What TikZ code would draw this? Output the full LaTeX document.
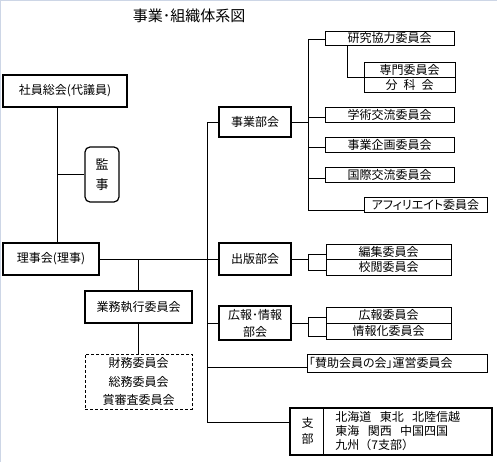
\documentclass[tikz,border=0pt]{standalone}
\usepackage{fontspec}
\setmainfont{Noto Sans CJK JP}
\newfontfamily\propfont{Noto Sans CJK JP}[RawFeature=+palt]
\definecolor{framegray}{RGB}{205,214,230}
\begin{document}
\begin{tikzpicture}[x=1pt, y=-1pt, line width=0.8pt,
    every node/.style={font=\fontsize{12}{15}\selectfont, inner sep=0pt},
    box/.style={draw, line width=0.8pt, minimum height=15pt},
    headbox/.style={draw, line width=1.6pt, minimum width=72pt, minimum height=32pt}]
  \useasboundingbox (0,0) rectangle (497,462);
  \draw [framegray, line width=1pt] (0.5,462) -- (0.5,0.5) -- (497,0.5);
  \coordinate (lspine) at (57,0);
  \coordinate (mspine) at (207,0);
  \coordinate (sspine) at (308,0);
  \node (title) [font=\fontsize{15}{17}\selectfont] at (189,16) {事業･組織体系図};
  \node [headbox, minimum width=124pt] (soukai) at (65,91) {社員総会(代議員)};
  \node [draw, line width=1.2pt, rounded corners=5pt, minimum width=34pt, minimum height=55pt, align=center, font=\fontsize{13}{20}\selectfont] (kanji) at (102,174.5) {監\\事};
  \node [headbox, minimum width=96pt] (rijikai) at (51,259) {理事会(理事)};
  \node [headbox, minimum width=107pt] (gyomu) at (138.5,307) {業務執行委員会};
  \node [draw, densely dashed, line width=0.7pt, minimum width=107pt, minimum height=55pt, align=center, font=\fontsize{12}{18.5}\selectfont] (gyomusub) at (138.5,381.5) {財務委員会\\総務委員会\\賞審査委員会};
  \node [headbox, minimum height=30pt] (jigyo) at (255,122) {事業部会};
  \node [headbox] (shuppan) at (255,259) {出版部会};
  \node [headbox, minimum height=34pt, align=center, font=\fontsize{12}{17}\selectfont] (koho) at (255,323) {広報･情報\\部会};
  \node [box, minimum width=129pt, minimum height=14pt] (kenkyu) at (389.5,38) {研究協力委員会};
  \node [box, minimum width=91pt] (senmon) at (409.5,69.5) {専門委員会};
  \node [box, minimum width=91pt] (bunka) at (409.5,84.5) {分\hspace{.5em}科\hspace{.5em}会};
  \node [box, minimum width=129pt] (gakujutsu) at (389.5,114.5) {学術交流委員会};
  \node [box, minimum width=129pt] (kikaku) at (389.5,144.5) {事業企画委員会};
  \node [box, minimum width=129pt] (kokusai) at (389.5,175) {国際交流委員会};
  \node [box, minimum width=123pt, font=\propfont\fontsize{12}{15}\selectfont] (afiri) at (425.5,204.5) {アフィリエイト委員会};
  \node [box, minimum width=125pt] (henshu) at (388.5,251.5) {編集委員会};
  \node [box, minimum width=125pt, minimum height=16pt] (koetsu) at (388.5,267) {校閲委員会};
  \node [box, minimum width=125pt, minimum height=16pt] (kohoi) at (388.5,315) {広報委員会};
  \node [box, minimum width=125pt, minimum height=16pt] (johoka) at (388.5,331) {情報化委員会};
  \node [box, minimum width=180pt, minimum height=18pt, text width=176pt, font=\propfont\fontsize{12}{15}\selectfont] (sanjo) at (397,363) {「賛助会員の会」運営委員会};
  \node [draw, line width=1.6pt, minimum width=202pt, minimum height=47pt] (shibu) at (391,431.5) {};
  \node [align=center, font=\fontsize{12}{16}\selectfont] (shibuhead) at (307.5,431) {支\\部};
  \node [anchor=west, align=left, font=\fontsize{12}{14}\selectfont] (shibulist) at (335,431) {北海道\hspace{.7em}東北\hspace{.7em}北陸信越\\東海\hspace{.7em}関西\hspace{.7em}中国四国\\九州（7支部）};
  \draw [line width=1.2pt] ([xshift=34pt]shibu.north west) -- ([xshift=34pt]shibu.south west);
  \draw (soukai.south -| lspine) -- (rijikai.north -| lspine);
  \draw (kanji.west -| lspine) -- (kanji.west);
  \draw (rijikai.east) -- (shuppan.west);
  \draw (rijikai.east -| gyomu.north) -- (gyomu.north);
  \draw (gyomu.south) -- (gyomusub.north);
  \draw (jigyo.west) -| ([yshift=9pt]shibu.west -| mspine) -- ([yshift=9pt]shibu.west);
  \draw (koho.west -| mspine) -- (koho.west);
  \draw ([yshift=-4pt]sanjo.west -| mspine) -- ([yshift=-4pt]sanjo.west);
  \draw (jigyo.east) -- (jigyo.east -| sspine);
  \draw ([yshift=-1pt]kenkyu.west) -| ([yshift=-5.5pt]afiri.west -| sspine) -- ([yshift=-5.5pt]afiri.west);
  \foreach \n in {gakujutsu,kikaku,kokusai}
    \draw ([yshift=-3pt]\n.west -| sspine) -- ([yshift=-3pt]\n.west);
  \draw ([xshift=23pt]kenkyu.south west) |- (senmon.south west);
  \draw (shuppan.east) -- (shuppan.east -| sspine);
  \draw ([yshift=-2.5pt]henshu.west) -| ([yshift=-3pt]koetsu.west -| sspine) -- ([yshift=-3pt]koetsu.west);
  \draw (koho.east) -- (koho.east -| sspine);
  \draw ([yshift=-2pt]kohoi.west) -| ([yshift=-5pt]johoka.west -| sspine) -- ([yshift=-5pt]johoka.west);
\end{tikzpicture}
\end{document}
